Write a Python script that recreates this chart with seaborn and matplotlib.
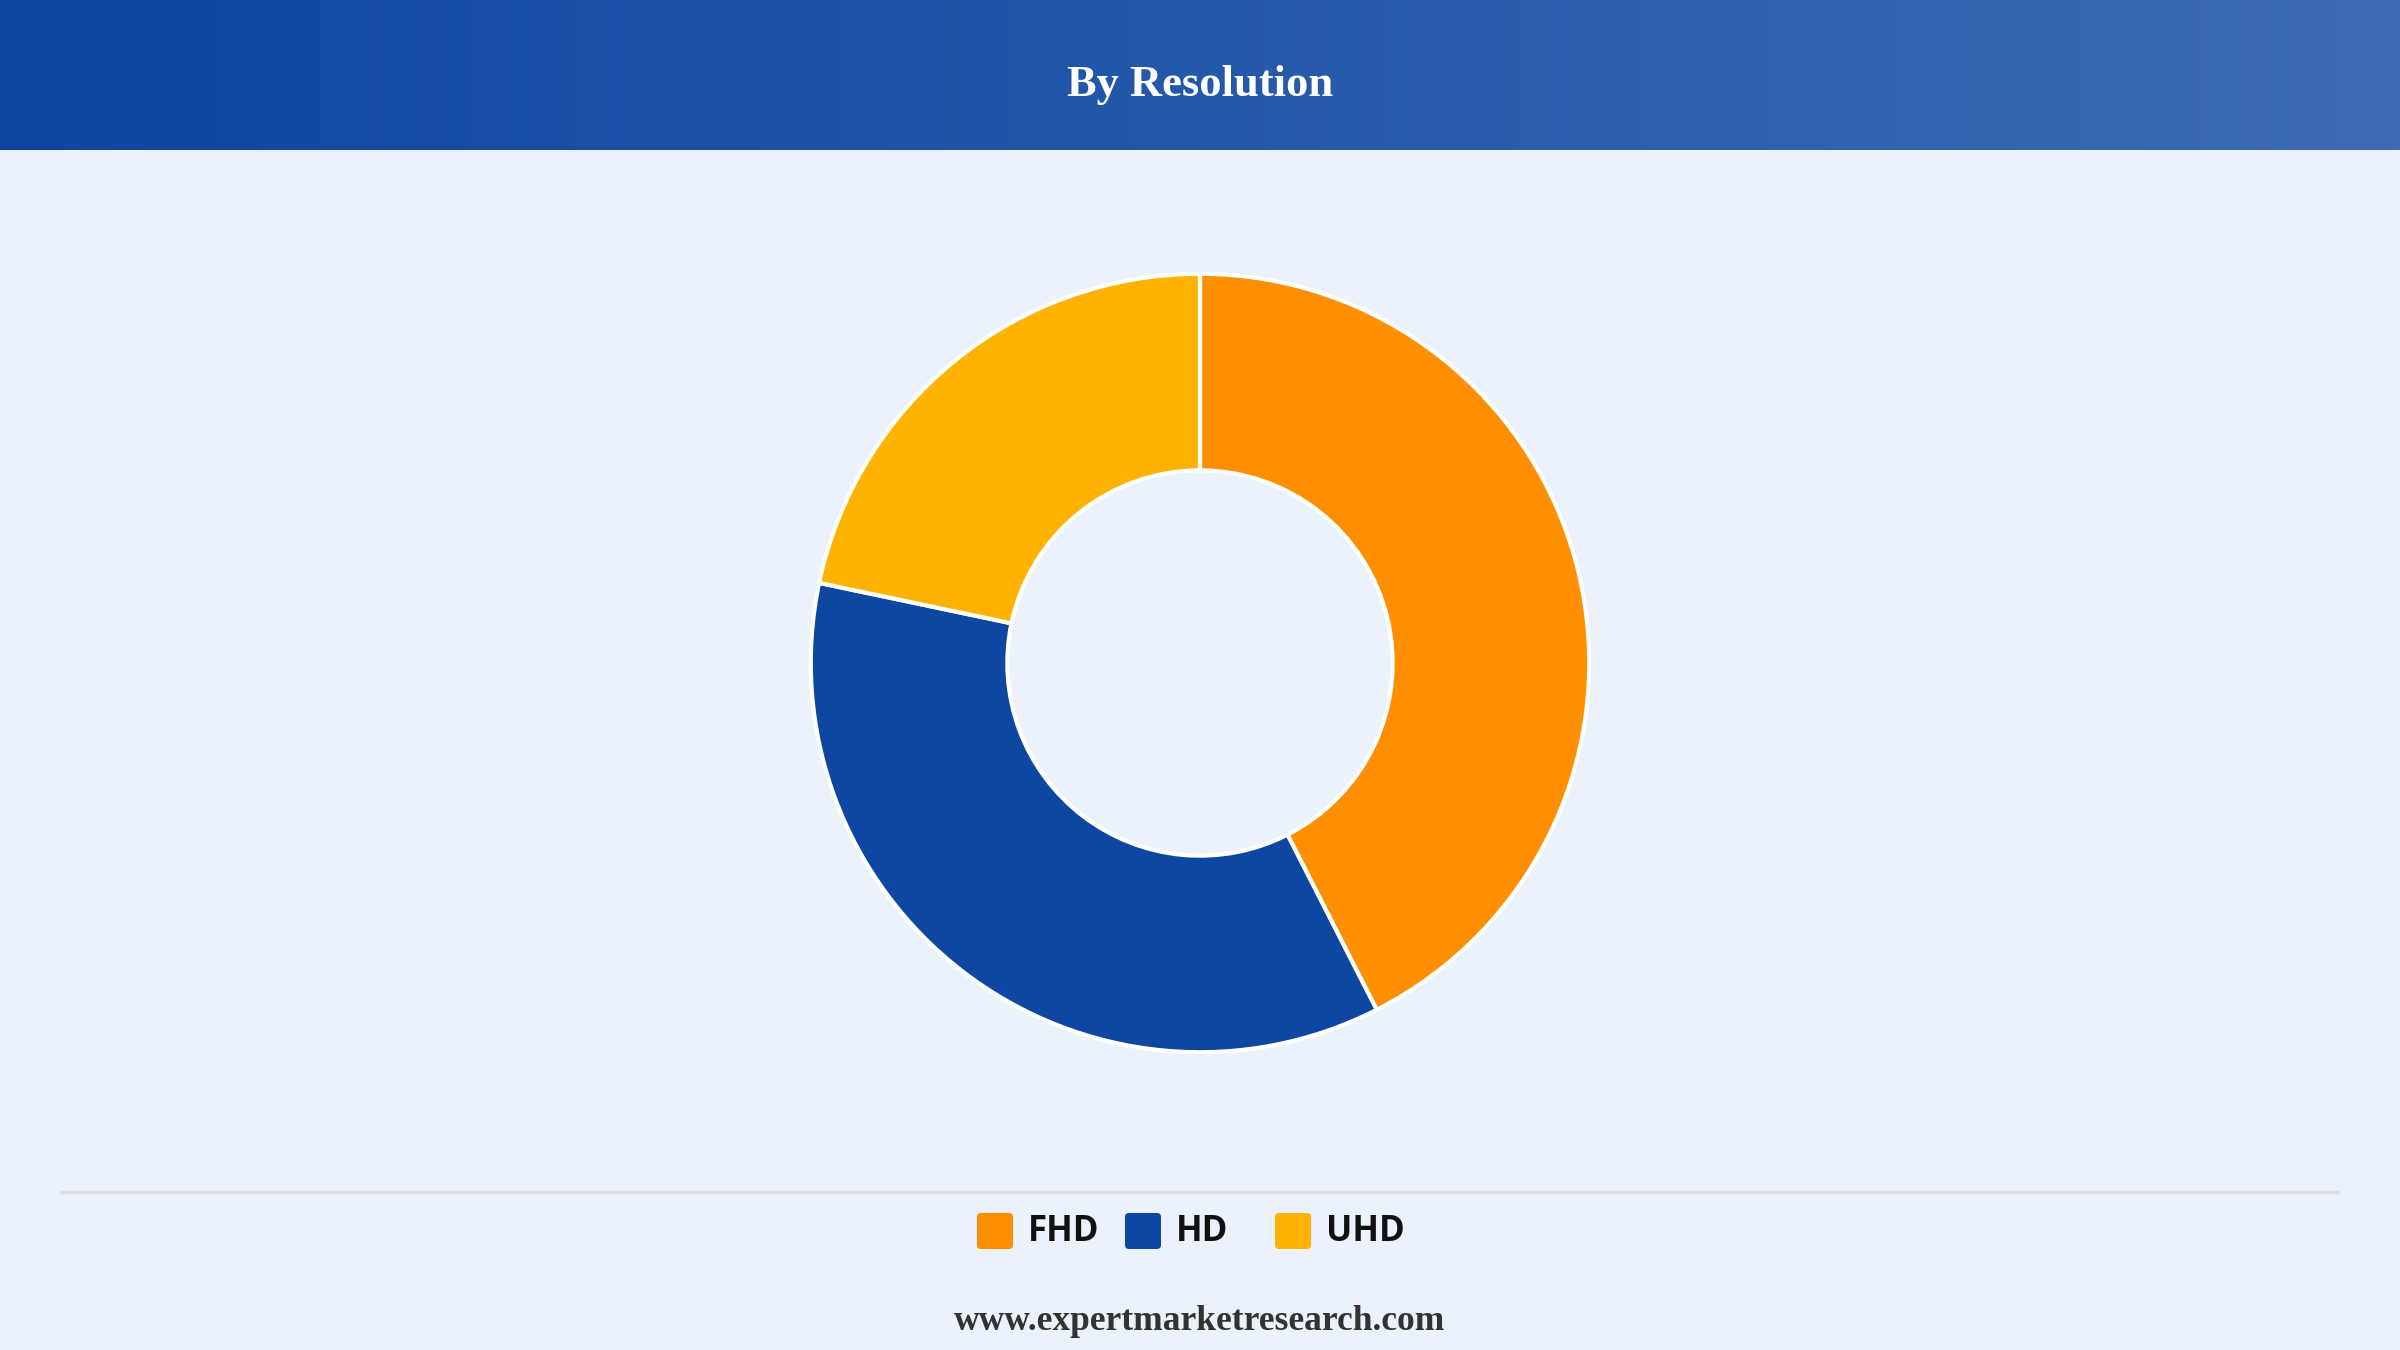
import numpy as np
import matplotlib
matplotlib.use("Agg")
import matplotlib.pyplot as plt
from matplotlib.patches import FancyBboxPatch
from matplotlib.colors import LinearSegmentedColormap
import seaborn as sns

# ---- data ----
categories = ["FHD", "HD", "UHD"]
shares = [42.5, 35.8, 21.7]
colors = ["#FF8F00", "#0D47A1", "#FFB300"]
title = "By Resolution"
footer = "www.expertmarketresearch.com"

sns.set_theme(style="white")
plt.rcParams["font.family"] = ["DejaVu Sans"]

W, H = 2400, 1350
DPI = 100
bg = "#EBF2FB"
fig = plt.figure(figsize=(W / DPI, H / DPI), dpi=DPI, facecolor=bg)

# header gradient band
hdr_h = 150
hax = fig.add_axes([0, 1 - hdr_h / H, 1, hdr_h / H])
cmap = LinearSegmentedColormap.from_list("hdr", ["#0D45A0", "#3B6BB4"])
hax.imshow(np.linspace(0, 1, 512)[None, :], aspect="auto", cmap=cmap, extent=[0, 1, 0, 1])
hax.set_axis_off()
fig.text(0.5, 1 - 85 / H, title, ha="center", va="center", color="white",
         fontsize=32, fontweight="bold", family=["Liberation Serif", "DejaVu Serif"])

# donut
cx, cy, R = 1200, 663, 397
ax = fig.add_axes([(cx - R) / W, (H - cy - R) / H, 2 * R / W, 2 * R / H])
ax.set_facecolor("none")
ax.pie(shares, colors=colors, startangle=90, counterclock=False, radius=1,
       wedgeprops=dict(width=0.505, edgecolor="white", linewidth=3))
ax.set_xlim(-1.02, 1.02)
ax.set_ylim(-1.02, 1.02)
ax.set_aspect("equal")
ax.set_axis_off()

# separator line
lax = fig.add_axes([0, 0, 1, 1], facecolor="none")
lax.set_xlim(0, W)
lax.set_ylim(H, 0)
lax.set_axis_off()
lax.plot([60, 2340], [1192, 1192], color="#DCDEE2", lw=2.5, solid_capstyle="butt")

# legend
sq = 36
ly = 1231
sq_x = [977, 1125, 1275]
txt_x = [1028, 1176, 1326]
for cat, col, sx, tx in zip(categories, colors, sq_x, txt_x):
    lax.add_patch(FancyBboxPatch((sx + 4, ly - sq / 2 + 4), sq - 8, sq - 8,
                                 boxstyle="round,pad=4", facecolor=col, edgecolor="none"))
    lax.text(tx, ly + 1, cat, ha="left", va="center", fontsize=25, fontweight="bold",
             color="#111111", family=["Open Sans", "Noto Sans", "DejaVu Sans"])

fig.text(0.5, 1 - 1322 / H, footer, ha="center", va="center", fontsize=25.5,
         fontweight="bold", color="#333333", family=["Liberation Serif", "DejaVu Serif"])

fig.savefig("out.png", dpi=DPI, facecolor=bg)
